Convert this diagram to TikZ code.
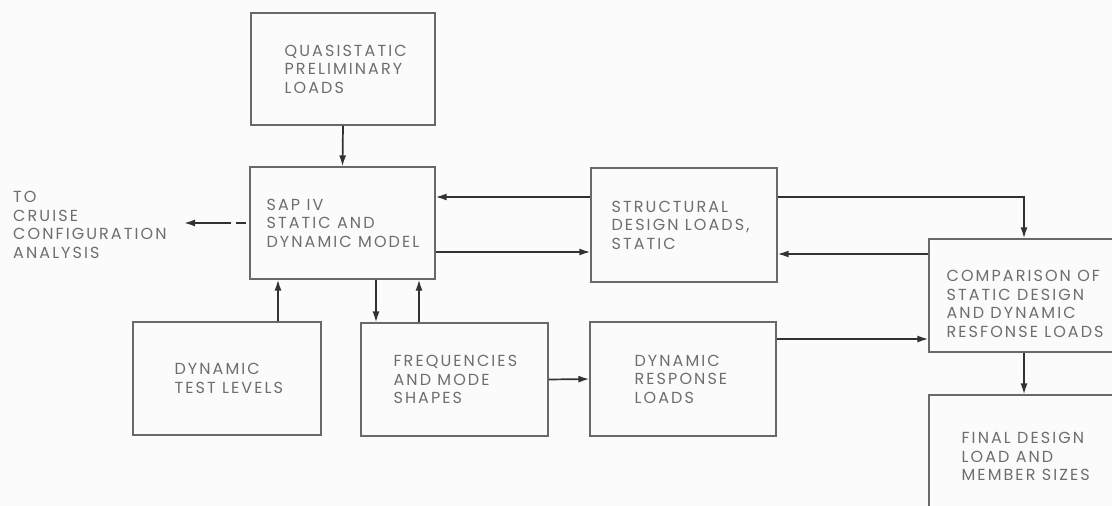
\documentclass[tikz,border=0pt]{standalone}
\usepackage{fontspec}
\newfontfamily\lblfont{Poppins}[LetterSpace=13]
\usetikzlibrary{arrows.meta}
\definecolor{txt}{RGB}{110,110,110}
\definecolor{ln}{RGB}{50,50,50}
\definecolor{boxln}{RGB}{105,105,105}
\definecolor{bgc}{RGB}{251,251,251}
\begin{document}
\begin{tikzpicture}[x=1pt,y=-1pt,
  box/.style={draw=boxln, line width=1.2pt, inner sep=0pt},
  lbl/.style={font=\lblfont\fontsize{16}{18.5}\selectfont, text=txt, align=left, inner sep=0pt, anchor=west},
  arr/.style={draw=ln, line width=1.7pt, -{Latex[length=11pt,width=7pt]}}]
\fill[bgc] (0,0) rectangle (1112,506);
\useasboundingbox (0,0) rectangle (1112,506);
\clip (0,0) rectangle (1112,506);
% boxes
\node[box, minimum width=184pt, minimum height=112pt] (quasi) at (343,69) {};
\node[box, minimum width=185pt, minimum height=112pt] (sap) at (342.5,223) {};
\node[box, minimum width=186pt, minimum height=114pt] (struct) at (684,225) {};
\node[box, minimum width=190pt, minimum height=113pt] (comp) at (1024,295.5) {};
\node[box, minimum width=190pt, minimum height=135pt] (final) at (1024,462.5) {};
\node[box, minimum width=188pt, minimum height=113pt] (dyntest) at (227,378.5) {};
\node[box, minimum width=187pt, minimum height=113pt] (freq) at (454.5,379.5) {};
\node[box, minimum width=186pt, minimum height=114pt] (dynresp) at (683,379) {};
% labels
\node[lbl] (quasit) at ([xshift=34pt]quasi.west) {QUASISTATIC\\PRELIMINARY\\LOADS};
\node[lbl] (sapt) at ([xshift=17pt]sap.west) {SAP IV\\STATIC AND\\DYNAMIC MODEL};
\node[lbl] (structt) at ([xshift=21pt]struct.west) {STRUCTURAL\\DESIGN LOADS,\\STATIC};
\node[lbl] (compt) at ([xshift=18pt,yshift=-8.5pt]comp.west) {COMPARISON OF\\STATIC DESIGN\\AND DYNAMIC\\RESFONSE LOADS};
\node[lbl] (finalt) at ([xshift=33pt,yshift=6pt]final.west) {FINAL DESIGN\\LOAD AND\\MEMBER SIZES};
\node[lbl] (dyntestt) at ([xshift=42pt]dyntest.west) {DYNAMIC\\TEST LEVELS};
\node[lbl] (freqt) at ([xshift=33pt]freq.west) {FREQUENCIES\\AND MODE\\SHAPES};
\node[lbl] (dynrespt) at ([xshift=45pt]dynresp.west) {DYNAMIC\\RESPONSE\\LOADS};
\node[lbl] (cruise) at (13,225) {TO\\CRUISE\\CONFIGURATION\\ANALYSIS};
\coordinate (cruisetip) at (184,223);
% connectors
\draw[arr] (quasi.south) -- (sap.north);
\draw[arr] ([yshift=28pt]struct.west) -- ([yshift=28pt]struct.west -| sap.east);
\draw[arr] ([yshift=-29pt]sap.east) -- ([yshift=-29pt]sap.east -| struct.west);
\draw[arr] ([yshift=28pt]struct.east) -| (comp.north);
\draw[arr] ([yshift=-29pt]struct.east -| comp.west) -- ([yshift=-29pt]struct.east);
\draw[arr] ([yshift=40pt]dynresp.east) -- ([yshift=40pt]dynresp.east -| comp.west);
\draw[arr] (comp.south) -- (final.north);
\draw[arr] (freq.east) -- (dynresp.west);
\draw[arr] ([xshift=-78.5pt]freq.north |- sap.south) -- ([xshift=-78.5pt]freq.north);
\draw[arr] ([xshift=-35.5pt]freq.north) -- ([xshift=-35.5pt]freq.north |- sap.south);
\draw[arr] ([xshift=51pt]dyntest.north) -- ([xshift=51pt]dyntest.north |- sap.south);
\draw[arr, dash pattern=on 0pt off 3pt on 10pt off 5pt on 200pt] (sap.west) -- (cruisetip);
\end{tikzpicture}
\end{document}
